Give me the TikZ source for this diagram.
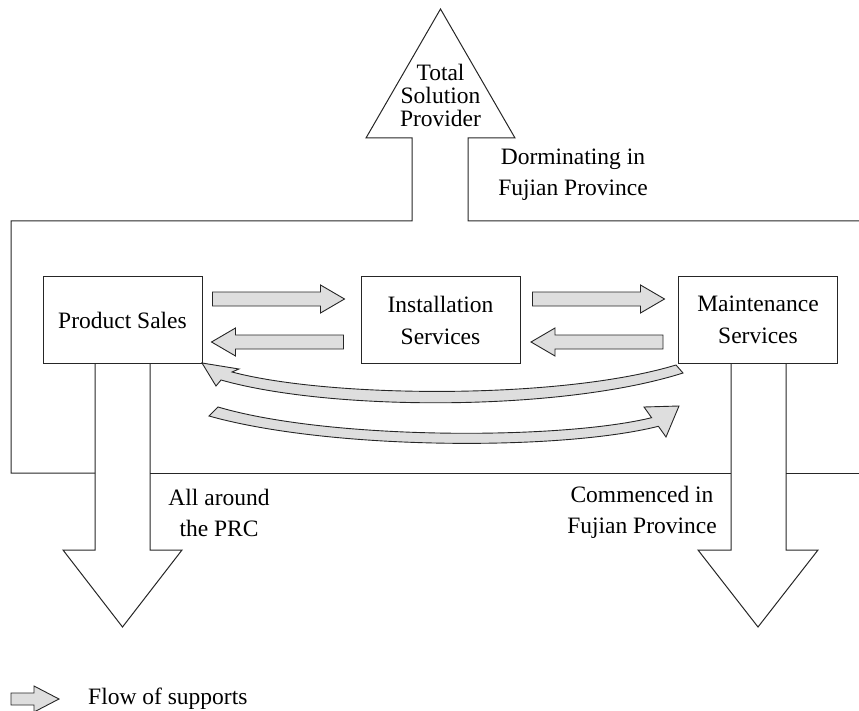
\documentclass[tikz,border=0pt]{standalone}
\usepackage{fontspec}
\setmainfont{Liberation Serif}
\usetikzlibrary{calc}
\begin{document}
\begin{tikzpicture}[x=1pt,y=-1pt,
  line/.style={draw=black!85, line width=1pt, line join=miter},
  box/.style={draw=black!85, line width=1pt, fill=white, minimum width=159pt, minimum height=86pt, inner sep=0pt, font=\fontsize{23.5}{32}\selectfont, align=center},
  lbl/.style={font=\fontsize{23.5}{31}\selectfont, align=center, inner sep=0pt},
  flow/.style={draw=black!85, line width=0.9pt, fill=black!13, line join=miter},
  pics/flowarrow/.style={code={\path[flow] (0,-7) -- (108,-7) -- (108,-14) -- (132,0) -- (108,14) -- (108,7) -- (0,7) -- cycle;}}
]
\useasboundingbox (0,0) rectangle (859,711);

% outline of the big shape
\draw[line] (859,221) -- (468,221) -- (468,138) -- (515,138) -- (440.5,9) -- (366,138) -- (412,138) -- (412,221) -- (11,221) -- (11,473) -- (95,473);
\draw[line] (95,363) -- (95,550) -- (63,550) -- (122.5,627) -- (182,550) -- (150,550) -- (150,363);
\draw[line] (150,473) -- (731,473);
\draw[line] (731,363) -- (731,550) -- (698,550) -- (758,627) -- (818,550) -- (786,550) -- (786,363);
\draw[line] (786,473) -- (859,473);

% boxes
\node[box] (ps) at (122.5,320) {Product Sales};
\node[box] (is) at (440.5,320) {Installation\\Services};
\node[box] (ms) at (758,320) {Maintenance\\Services};

% straight flow arrows
\pic at ($(ps.east)+(10,-21)$) {flowarrow};
\pic[rotate=180] at ($(is.west)+(-17,22)$) {flowarrow};
\pic at ($(is.east)+(12,-21)$) {flowarrow};
\pic[rotate=180] at ($(ms.west)+(-15,22)$) {flowarrow};

% curved flow arrows
\path[flow] (676,365) .. controls (560,400) and (330,398) .. (232,372) -- (239,369) -- (202,363) -- (216,386) -- (221,380) .. controls (330,411) and (560,412) .. (683,373) -- cycle;
\path[flow] (218,407) .. controls (330,440) and (560,440) .. (651.6,417.7) -- (644,407) -- (679,406) -- (666,437) -- (658.4,426.3) .. controls (560,451) and (330,450) .. (209,416) -- cycle;

% labels
\node[lbl, font=\fontsize{23.5}{23}\selectfont] (tsp) at (440.5,95) {Total\\Solution\\Provider};
\node[lbl] (dom) at (573,174.5) {Dorminating in\\Fujian Province};
\node[lbl] (aar) at (219,512.5) {All around\\the PRC};
\node[lbl] (cfp) at (642,512) {Commenced in\\Fujian Province};

% legend
\path[flow] (11,693) -- (34,693) -- (34,686) -- (59,699) -- (34,712) -- (34,705) -- (11,705) -- cycle;
\node[lbl, anchor=west] (leg) at (88,699) {Flow of supports};
\end{tikzpicture}
\end{document}
